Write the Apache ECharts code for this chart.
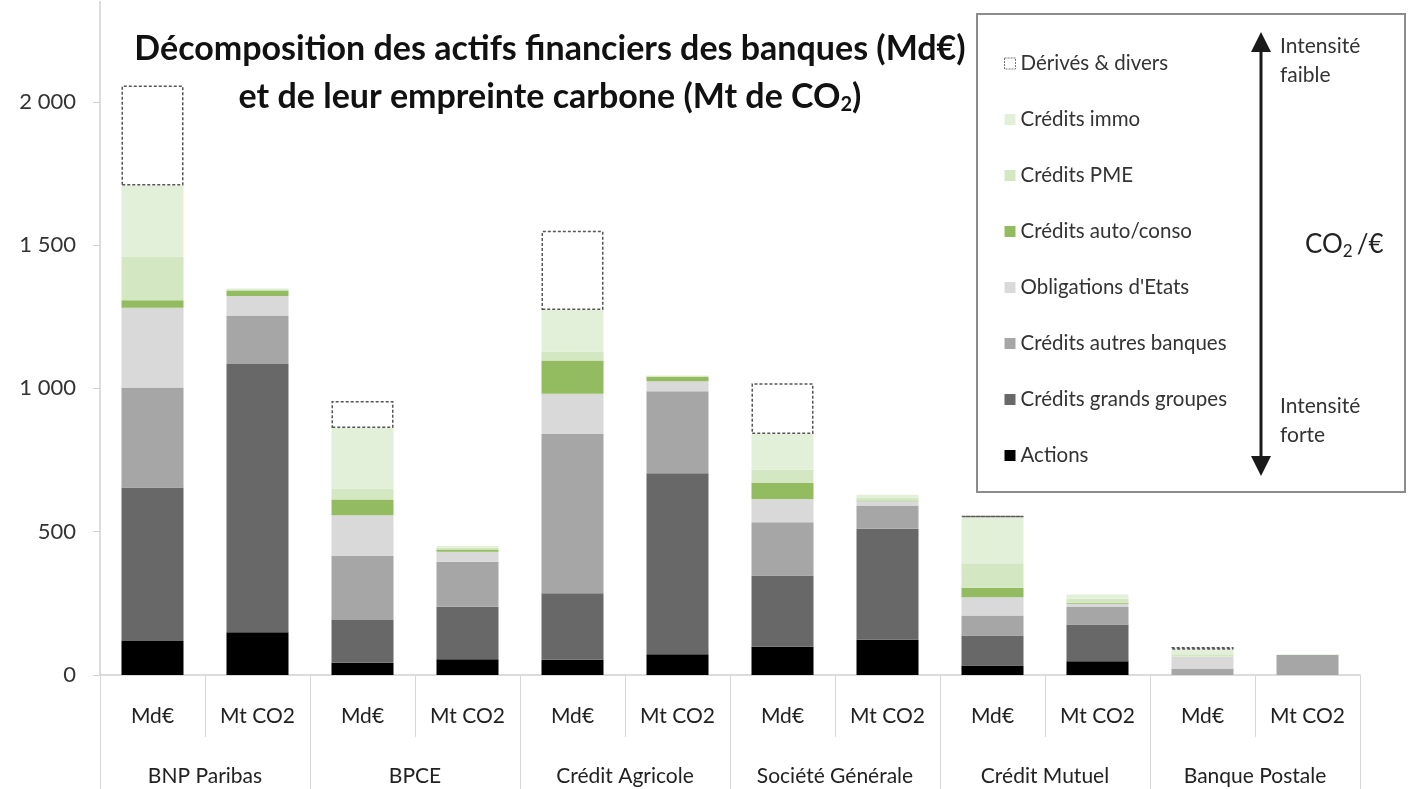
<!DOCTYPE html>
<html>
<head>
<meta charset="utf-8">
<script src="https://cdn.jsdelivr.net/npm/echarts@6/dist/echarts.min.js"></script>
<style>
html,body{margin:0;padding:0;background:#fff;}
#chart{width:1413px;height:789px;}
</style>
</head>
<body>
<div id="chart"></div>
<script>
// Categories
const subCategories = ['Md€','Mt CO2','Md€','Mt CO2','Md€','Mt CO2','Md€','Mt CO2','Md€','Mt CO2','Md€','Mt CO2'];
const banks = ['BNP Paribas','BPCE','Crédit Agricole','Société Générale','Crédit Mutuel','Banque Postale'];
const yTicks = [0, 500, 1000, 1500, 2000];

// Series values (bottom to top), order: BNP Md€, BNP CO2, BPCE Md€, BPCE CO2, CA Md€, CA CO2, SG Md€, SG CO2, CM Md€, CM CO2, BP Md€, BP CO2
const actions         = [119, 149,  43,  55,  53,  72,  99, 123,  33,  48,   0,  0];
const grandsGroupes   = [535, 936, 149, 183, 232, 632, 248, 387, 105, 128,   0,  0];
const autresBanques   = [349, 169, 223, 157, 556, 286, 186,  81,  70,  61,  23, 70];
const obligations     = [278,  68, 142,  35, 140,  35,  81,  15,  63,  12,  41,  0];
const autoConso       = [ 27,  20,  55,   8, 116,  16,  56,   3,  33,   3,   0,  0];
const pme             = [152,   4,  38,   6,  32,   2,  46,  10,  86,  14,   8,  1];
const immo            = [248,   3, 212,   6, 145,   2, 125,  10, 160,  15,  16,  1];
const derives         = [349, null, 94, null, 276, null, 177, null,  6, null, 10, null];

const seriesNames = ['Actions','Crédits grands groupes','Crédits autres banques',"Obligations d'Etats",'Crédits auto/conso','Crédits PME','Crédits immo','Dérivés & divers'];
const seriesData = [actions, grandsGroupes, autresBanques, obligations, autoConso, pme, immo, derives];
const seriesColors = ['#000000','#686868','#a6a6a6','#d9d9d9','#92bc5f','#d4e7c3','#e3f0d9','#ffffff'];

const FONT = 'Lato, "Open Sans", sans-serif';
const chart = echarts.init(document.getElementById('chart'));

const series = seriesNames.map((name, i) => {
  const s = {
    name: name,
    type: 'bar',
    stack: 'total',
    barWidth: 62,
    data: seriesData[i],
    itemStyle: { color: seriesColors[i] },
    emphasis: { disabled: true }
  };
  if (i === 7) {
    s.itemStyle = { color: '#ffffff', borderColor: '#555555', borderWidth: 1.5, borderType: [3, 2] };
  }
  return s;
});

const legendData = seriesNames.slice().reverse().map(n => {
  if (n === 'Dérivés & divers') {
    return { name: n, itemStyle: { color: '#ffffff', borderColor: '#777', borderWidth: 1, borderType: [2, 1] } };
  }
  return { name: n };
});

function fmt(v) {
  return String(v).replace(/\B(?=(\d{3})+(?!\d))/g, ' ');
}

const option = {
  backgroundColor: '#ffffff',
  animation: false,
  title: {
    text: 'Décomposition des actifs financiers des banques (Md€)\net de leur empreinte carbone (Mt de CO{sub|2})',
    left: 545,
    top: 20,
    textAlign: 'center',
    textStyle: {
      fontFamily: FONT,
      fontSize: 34,
      fontWeight: 'bold',
      color: '#111',
      lineHeight: 48,
      rich: {
        sub: { fontFamily: FONT, fontSize: 20, fontWeight: 'bold', color: '#111', padding: [16, 0, 0, 0] }
      }
    }
  },
  legend: {
    orient: 'vertical',
    left: 999,
    top: 48,
    itemWidth: 11,
    itemHeight: 11,
    itemGap: 35,
    icon: 'rect',
    selectedMode: false,
    data: legendData,
    textStyle: { fontFamily: FONT, fontSize: 20.5, color: '#333', padding: [0, 0, 0, 0] },
    z: 10
  },
  grid: { left: 100, right: 53, top: 1.5, bottom: 114, containLabel: false },
  xAxis: [
    {
      type: 'category',
      data: subCategories,
      axisLine: { lineStyle: { color: '#d0d0d0', width: 1.5 } },
      axisTick: { show: true, length: 62, interval: 0, lineStyle: { color: '#d6d6d6' } },
      axisLabel: { interval: 0, margin: 31, fontFamily: FONT, fontSize: 21, color: '#222' }
    },
    {
      type: 'category',
      data: banks,
      position: 'bottom',
      axisLine: { show: false },
      axisTick: { show: true, length: 120, interval: 0, lineStyle: { color: '#d6d6d6' } },
      axisLabel: { interval: 0, margin: 91, fontFamily: FONT, fontSize: 21, color: '#222' }
    }
  ],
  yAxis: {
    type: 'value',
    min: 0,
    max: 2350,
    interval: 500,
    splitLine: { show: false },
    axisLine: { show: true, lineStyle: { color: '#d0d0d0', width: 1.5 } },
    axisTick: { show: true, length: 7, customValues: yTicks, lineStyle: { color: '#d0d0d0' } },
    axisLabel: {
      margin: 24,
      customValues: yTicks,
      fontFamily: FONT, fontSize: 22, color: '#333',
      formatter: v => (yTicks.indexOf(v) >= 0 ? fmt(v) : '')
    }
  },
  graphic: [
    { type: 'rect', z: 1, shape: { x: 977, y: 14, width: 428, height: 478 }, style: { fill: '#fff', stroke: '#8c8c8c', lineWidth: 2 } },
    { type: 'line', z: 2, shape: { x1: 1261, y1: 46, x2: 1261, y2: 462 }, style: { stroke: '#1a1a1a', lineWidth: 3 } },
    { type: 'polygon', z: 2, shape: { points: [[1261, 32], [1251, 52], [1271, 52]] }, style: { fill: '#1a1a1a' } },
    { type: 'polygon', z: 2, shape: { points: [[1261, 476], [1251, 456], [1271, 456]] }, style: { fill: '#1a1a1a' } },
    { type: 'text', z: 2, left: 1280, top: 32, style: { text: 'Intensité\nfaible', fontFamily: FONT, fontSize: 21, fill: '#333', lineHeight: 29 } },
    { type: 'text', z: 2, left: 1280, top: 392, style: { text: 'Intensité\nforte', fontFamily: FONT, fontSize: 21, fill: '#333', lineHeight: 29 } },
    { type: 'text', z: 2, left: 1305, top: 232, style: {
        text: 'CO{s|2}/€', fontFamily: FONT, fontSize: 26, fill: '#222',
        rich: { s: { fontFamily: FONT, fontSize: 17, fill: '#222', padding: [13, 4, 0, 0] } }
      } }
  ],
  series: series
};
chart.setOption(option);
</script>
</body>
</html>
